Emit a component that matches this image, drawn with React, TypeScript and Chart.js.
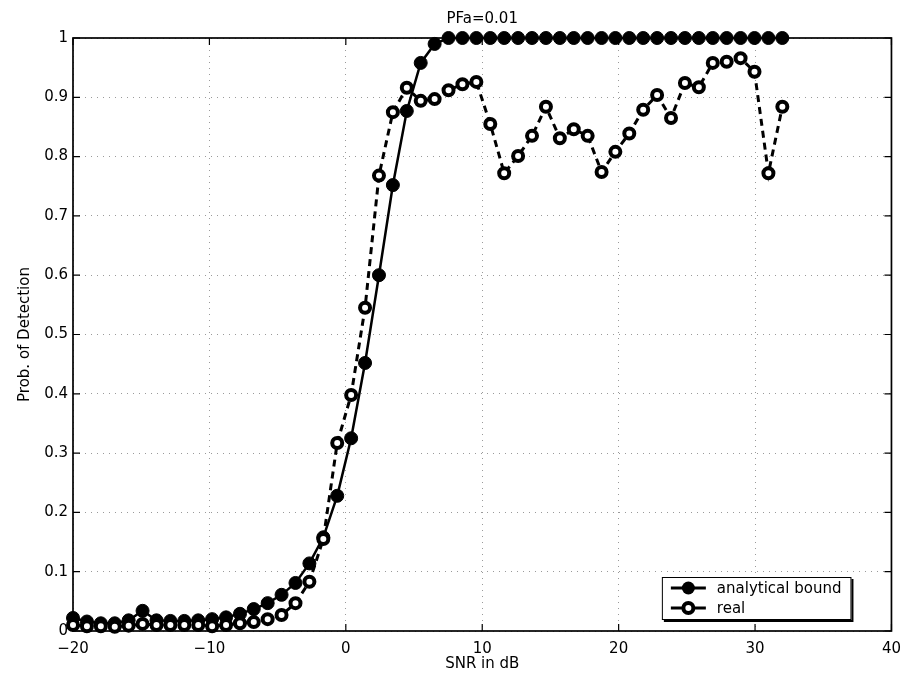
import React, { useEffect, useRef } from 'react';
import { Chart, registerables } from 'chart.js';

Chart.register(...registerables);

// ---- data ----
const SNR_DB = [
  -20, -18.98, -17.96, -16.94, -15.92, -14.9, -13.88, -12.86, -11.84, -10.82,
  -9.8, -8.78, -7.76, -6.75, -5.73, -4.71, -3.69, -2.67, -1.65, -0.63,
  0.39, 1.41, 2.43, 3.45, 4.47, 5.49, 6.51, 7.53, 8.55, 9.57,
  10.59, 11.61, 12.63, 13.65, 14.67, 15.69, 16.71, 17.73, 18.75, 19.76,
  20.78, 21.8, 22.82, 23.84, 24.86, 25.88, 26.9, 27.92, 28.94, 29.96,
  30.98, 32,
];

const ANALYTICAL_BOUND = [
  0.022, 0.016, 0.013, 0.013, 0.018, 0.034, 0.018, 0.017, 0.017, 0.018,
  0.02, 0.023, 0.029, 0.037, 0.047, 0.061, 0.081, 0.114, 0.158, 0.228,
  0.325, 0.452, 0.6, 0.752, 0.877, 0.958, 0.99, 1, 1, 1,
  1, 1, 1, 1, 1, 1, 1, 1, 1, 1,
  1, 1, 1, 1, 1, 1, 1, 1, 1, 1,
  1, 1,
];

const REAL = [
  0.01, 0.008, 0.008, 0.007, 0.009, 0.012, 0.01, 0.01, 0.01, 0.01,
  0.008, 0.01, 0.013, 0.015, 0.02, 0.027, 0.047, 0.083, 0.155, 0.317,
  0.398, 0.545, 0.768, 0.875, 0.916, 0.894, 0.897, 0.912, 0.922, 0.926,
  0.855, 0.772, 0.801, 0.835, 0.884, 0.831, 0.846, 0.835, 0.774, 0.808,
  0.839, 0.879, 0.904, 0.865, 0.924, 0.917, 0.958, 0.96, 0.966, 0.943,
  0.772, 0.884,
];

const X_TICKS = [-20, -10, 0, 10, 20, 30, 40];
const X_TICK_LABELS = ['\u221220', '\u221210', '0', '10', '20', '30', '40'];
const Y_TICKS = [0, 0.1, 0.2, 0.3, 0.4, 0.5, 0.6, 0.7, 0.8, 0.9, 1];
const Y_TICK_LABELS = ['0', '0.1', '0.2', '0.3', '0.4', '0.5', '0.6', '0.7', '0.8', '0.9', '1'];

const TITLE = 'PFa=0.01';
const X_LABEL = 'SNR in dB';
const Y_LABEL = 'Prob. of Detection';
const SERIES_NAMES = ['analytical bound', 'real'];

const FONT_FAMILY = '"DejaVu Sans", "Liberation Sans", sans-serif';

function labelFor(ticks: number[], labels: string[], v: number): string {
  const idx = ticks.findIndex((t) => Math.abs(t - v) < 1e-9);
  return idx >= 0 ? labels[idx] : '';
}

const framePlugin = {
  id: 'matlabFrame',
  beforeDatasetsDraw(chart: any) {
    const { ctx, chartArea } = chart;
    const { left, right, top, bottom } = chartArea;
    const xs = chart.scales.x;
    const ys = chart.scales.y;
    ctx.save();
    ctx.setLineDash([]);
    ctx.strokeStyle = '#000';
    ctx.lineWidth = 1.2;
    ctx.beginPath();
    X_TICKS.forEach((v) => {
      const px = xs.getPixelForValue(v);
      ctx.moveTo(px, bottom);
      ctx.lineTo(px, bottom - 7);
      ctx.moveTo(px, top);
      ctx.lineTo(px, top + 7);
    });
    Y_TICKS.forEach((v) => {
      const py = ys.getPixelForValue(v);
      ctx.moveTo(left, py);
      ctx.lineTo(left + 7, py);
      ctx.moveTo(right, py);
      ctx.lineTo(right - 7, py);
    });
    ctx.stroke();
    ctx.lineWidth = 1.7;
    ctx.strokeRect(left, top, right - left, bottom - top);
    ctx.restore();
  },
};

const legendPlugin = {
  id: 'insideLegend',
  afterDraw(chart: any) {
    const { ctx, chartArea } = chart;
    ctx.save();
    ctx.font = `15px ${FONT_FAMILY}`;
    const textW = Math.max(...SERIES_NAMES.map((s) => ctx.measureText(s).width));
    const w = 55 + textW + 10;
    const h = 43;
    const boxRight = chartArea.right - 40;
    const boxBottom = chartArea.bottom - 11;
    const bx = boxRight - w;
    const by = boxBottom - h;
    // shadow
    ctx.fillStyle = '#000';
    ctx.fillRect(bx + 2, by + 2, w, h);
    ctx.fillStyle = '#fff';
    ctx.fillRect(bx, by, w, h);
    ctx.strokeStyle = '#000';
    ctx.lineWidth = 1;
    ctx.setLineDash([]);
    ctx.strokeRect(bx + 0.5, by + 0.5, w - 1, h - 1);

    const rows = [by + 11, by + 31];
    rows.forEach((ry, i) => {
      const x0 = bx + 9;
      const x1 = bx + 44;
      const mx = (x0 + x1) / 2;
      ctx.beginPath();
      ctx.strokeStyle = '#000';
      ctx.lineWidth = 3;
      ctx.moveTo(x0, ry);
      ctx.lineTo(x1, ry);
      ctx.stroke();
      ctx.beginPath();
      if (i === 0) {
        ctx.arc(mx, ry, 6.5, 0, Math.PI * 2);
        ctx.fillStyle = '#000';
        ctx.fill();
      } else {
        ctx.arc(mx, ry, 5, 0, Math.PI * 2);
        ctx.fillStyle = '#fff';
        ctx.fill();
        ctx.lineWidth = 4;
        ctx.stroke();
      }
      ctx.fillStyle = '#000';
      ctx.textAlign = 'left';
      ctx.textBaseline = 'middle';
      ctx.fillText(SERIES_NAMES[i], bx + 55, ry + 1);
    });
    ctx.restore();
  },
};

export default function App() {
  const canvasRef = useRef<HTMLCanvasElement | null>(null);

  useEffect(() => {
    document.body.style.margin = '0';
    const canvas = canvasRef.current;
    if (!canvas) return;

    const analyticalData = SNR_DB.map((x, i) => ({ x, y: ANALYTICAL_BOUND[i] }));
    const realData = SNR_DB.map((x, i) => ({ x, y: REAL[i] }));

    const chart = new Chart(canvas, {
      type: 'line',
      data: {
        datasets: [
          {
            label: SERIES_NAMES[0],
            data: analyticalData,
            borderColor: '#000',
            borderWidth: 2.5,
            pointRadius: 6.5,
            pointBackgroundColor: '#000',
            pointBorderColor: '#000',
            pointBorderWidth: 1,
            tension: 0,
            order: 1,
            clip: false as any,
          },
          {
            label: SERIES_NAMES[1],
            data: realData,
            borderColor: '#000',
            borderWidth: 3,
            borderDash: [7, 5],
            pointRadius: 5,
            pointBackgroundColor: '#fff',
            pointBorderColor: '#000',
            pointBorderWidth: 4,
            tension: 0,
            order: 0,
            clip: false as any,
          },
        ],
      },
      options: {
        responsive: false,
        animation: false,
        events: [],
        layout: { padding: { left: 0, right: 17, top: 0, bottom: 0 } },
        plugins: {
          legend: { display: false },
          tooltip: { enabled: false },
          title: {
            display: true,
            fullSize: false,
            text: TITLE,
            color: '#000',
            font: { family: FONT_FAMILY, size: 15, weight: 'normal' as any },
            padding: { top: 10, bottom: 10 },
          },
        },
        scales: {
          x: {
            type: 'linear',
            min: -20,
            max: 40,
            afterBuildTicks: (scale: any) => {
              scale.ticks = X_TICKS.map((v) => ({ value: v }));
            },
            afterFit: (scale: any) => {
              scale.height = 42;
            },
            ticks: {
              autoSkip: false,
              maxRotation: 0,
              padding: 9,
              color: '#000',
              font: { family: FONT_FAMILY, size: 15 },
              callback: (v: any) => labelFor(X_TICKS, X_TICK_LABELS, Number(v)),
            },
            grid: {
              drawTicks: false,
              color: '#9a9a9a',
              lineWidth: 1,
            },
            border: { display: false, dash: [1, 5] },
            title: {
              display: true,
              text: X_LABEL,
              color: '#000',
              font: { family: FONT_FAMILY, size: 15 },
              padding: { top: 0, bottom: 0 },
            },
          },
          y: {
            type: 'linear',
            min: 0,
            max: 1,
            afterBuildTicks: (scale: any) => {
              scale.ticks = Y_TICKS.map((v) => ({ value: v }));
            },
            afterFit: (scale: any) => {
              scale.width = 73;
            },
            ticks: {
              autoSkip: false,
              padding: 5,
              color: '#000',
              font: { family: FONT_FAMILY, size: 15 },
              callback: (v: any) => labelFor(Y_TICKS, Y_TICK_LABELS, Number(v)),
            },
            grid: {
              drawTicks: false,
              color: '#9a9a9a',
              lineWidth: 1,
            },
            border: { display: false, dash: [1, 5] },
            title: {
              display: true,
              text: Y_LABEL,
              color: '#000',
              font: { family: FONT_FAMILY, size: 15 },
              padding: { top: 16, bottom: 0 },
            },
          },
        },
      },
      plugins: [framePlugin, legendPlugin],
    });

    return () => {
      chart.destroy();
    };
  }, []);

  return (
    <div style={{ position: 'absolute', left: 0, top: 0, width: 910, height: 673, background: '#fff' }}>
      <canvas ref={canvasRef} width={910} height={673} style={{ display: 'block' }} />
    </div>
  );
}
